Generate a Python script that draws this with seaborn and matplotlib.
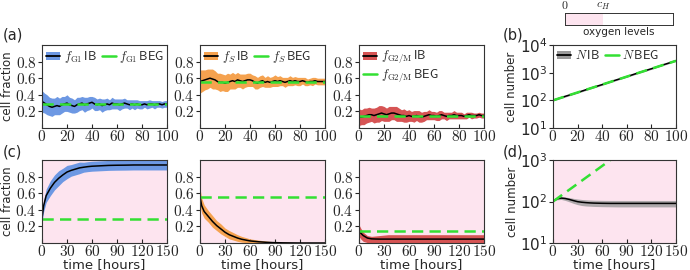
import numpy as np
import matplotlib
matplotlib.use('Agg')
import matplotlib.pyplot as plt
import seaborn as sns
from matplotlib.patches import Patch
from matplotlib.lines import Line2D
from matplotlib.ticker import FuncFormatter, FixedLocator, LogFormatterSciNotation, NullLocator

# ---- data: top row (normoxia), time 0..100 h every 2 h
top_t = np.arange(0, 101, 2)
g1_mean = [0.32, 0.30, 0.28, 0.26, 0.25, 0.26, 0.27, 0.26, 0.28, 0.29,
           0.30, 0.28, 0.27, 0.26, 0.28, 0.29, 0.30, 0.28, 0.29, 0.30,
           0.31, 0.29, 0.28, 0.29, 0.27, 0.28, 0.29, 0.28, 0.30, 0.29,
           0.29, 0.28, 0.29, 0.30, 0.29, 0.28, 0.29, 0.28, 0.29, 0.28,
           0.28, 0.29, 0.28, 0.29, 0.29, 0.28, 0.29, 0.29, 0.28, 0.29,
           0.29]
g1_half = [0.13, 0.12, 0.12, 0.11, 0.11, 0.10, 0.11, 0.10, 0.10, 0.09,
           0.10, 0.09, 0.09, 0.08, 0.09, 0.08, 0.08, 0.09, 0.08, 0.08,
           0.07, 0.08, 0.07, 0.07, 0.08, 0.07, 0.07, 0.06, 0.07, 0.06,
           0.06, 0.07, 0.06, 0.06, 0.05, 0.06, 0.05, 0.06, 0.05, 0.05,
           0.05, 0.04, 0.05, 0.05, 0.04, 0.05, 0.04, 0.04, 0.04, 0.04,
           0.04]
s_mean = [0.56, 0.57, 0.58, 0.59, 0.60, 0.59, 0.58, 0.56, 0.55, 0.55,
          0.54, 0.55, 0.56, 0.57, 0.56, 0.58, 0.57, 0.56, 0.57, 0.58,
          0.58, 0.57, 0.55, 0.54, 0.56, 0.57, 0.55, 0.56, 0.55, 0.56,
          0.57, 0.56, 0.57, 0.56, 0.55, 0.56, 0.57, 0.56, 0.57, 0.56,
          0.56, 0.57, 0.56, 0.55, 0.56, 0.56, 0.57, 0.56, 0.56, 0.56,
          0.56]
s_half = [0.14, 0.13, 0.12, 0.12, 0.11, 0.12, 0.11, 0.10, 0.11, 0.10,
          0.10, 0.11, 0.09, 0.10, 0.09, 0.09, 0.08, 0.09, 0.08, 0.08,
          0.08, 0.07, 0.08, 0.07, 0.07, 0.07, 0.06, 0.07, 0.06, 0.06,
          0.07, 0.06, 0.06, 0.05, 0.06, 0.05, 0.06, 0.05, 0.05, 0.05,
          0.05, 0.04, 0.05, 0.04, 0.04, 0.05, 0.04, 0.04, 0.04, 0.04,
          0.04]
g2m_mean = [0.13, 0.13, 0.14, 0.15, 0.16, 0.16, 0.15, 0.16, 0.17, 0.18,
            0.17, 0.16, 0.17, 0.18, 0.18, 0.17, 0.16, 0.15, 0.15, 0.14,
            0.15, 0.14, 0.14, 0.15, 0.14, 0.13, 0.14, 0.15, 0.16, 0.15,
            0.15, 0.14, 0.15, 0.16, 0.15, 0.14, 0.15, 0.15, 0.16, 0.15,
            0.15, 0.15, 0.14, 0.15, 0.16, 0.15, 0.15, 0.15, 0.16, 0.15,
            0.15]
g2m_half = [0.10, 0.09, 0.10, 0.09, 0.09, 0.08, 0.09, 0.09, 0.10, 0.09,
            0.09, 0.08, 0.09, 0.08, 0.08, 0.09, 0.08, 0.07, 0.08, 0.07,
            0.07, 0.06, 0.07, 0.06, 0.07, 0.06, 0.06, 0.05, 0.06, 0.05,
            0.05, 0.05, 0.06, 0.05, 0.04, 0.05, 0.04, 0.04, 0.05, 0.04,
            0.04, 0.04, 0.03, 0.04, 0.03, 0.04, 0.03, 0.03, 0.03, 0.03,
            0.03]
beg_g1, beg_s, beg_g2m = 0.29, 0.56, 0.15

# panel (b): cell number, normoxia
b_t = [0, 10, 20, 30, 40, 50, 60, 70, 80, 90, 100]
b_ib = [100, 140, 192, 270, 372, 522, 720, 1010, 1390, 1950, 2700]
b_lo = [95, 132, 182, 255, 352, 495, 682, 957, 1318, 1850, 2560]
b_hi = [105, 148, 202, 285, 392, 549, 758, 1063, 1462, 2050, 2840]
b_beg = [100, 139, 193, 268, 373, 518, 720, 1000, 1390, 1930, 2680]

# ---- bottom row (hypoxia), time 0..150 h
bot_t = [0, 2, 5, 10, 15, 20, 25, 30, 35, 40, 45, 50, 55, 60, 70, 80, 90,
         100, 110, 120, 130, 140, 150]
g1_c = [0.30, 0.45, 0.57, 0.66, 0.73, 0.78, 0.82, 0.855, 0.875, 0.89, 0.905,
        0.913, 0.92, 0.925, 0.93, 0.935, 0.937, 0.938, 0.94, 0.94, 0.94,
        0.94, 0.94]
g1_c_half = [0.05, 0.07, 0.08, 0.09, 0.09, 0.09, 0.08, 0.08, 0.07, 0.07,
             0.07, 0.06, 0.06, 0.06, 0.06, 0.06, 0.06, 0.06, 0.06, 0.06,
             0.06, 0.06, 0.06]
s_c = [0.56, 0.45, 0.38, 0.32, 0.26, 0.21, 0.17, 0.13, 0.10, 0.08, 0.06,
       0.045, 0.035, 0.025, 0.015, 0.008, 0.004, 0.002, 0.001, 0.0, 0.0,
       0.0, 0.0]
s_c_half = [0.10, 0.09, 0.08, 0.07, 0.07, 0.06, 0.06, 0.05, 0.05, 0.045,
            0.04, 0.035, 0.03, 0.025, 0.02, 0.015, 0.01, 0.008, 0.005,
            0.004, 0.003, 0.002, 0.002]
g2m_c = [0.15, 0.12, 0.09, 0.06, 0.05, 0.048, 0.047, 0.047, 0.047, 0.047,
         0.047, 0.047, 0.047, 0.047, 0.047, 0.047, 0.047, 0.047, 0.047,
         0.047, 0.047, 0.047, 0.047]
g2m_c_lo = [0.08, 0.05, 0.02, 0.005, 0.003, 0.003, 0.003, 0.003, 0.003,
            0.003, 0.003, 0.003, 0.003, 0.003, 0.003, 0.003, 0.003, 0.003,
            0.003, 0.003, 0.003, 0.003, 0.003]
g2m_c_hi = [0.22, 0.18, 0.13, 0.09, 0.08, 0.085, 0.09, 0.095, 0.10, 0.10,
            0.10, 0.10, 0.10, 0.10, 0.10, 0.10, 0.10, 0.10, 0.10, 0.10,
            0.10, 0.10, 0.10]

# panel (d): cell number, hypoxia
d_ib = [100, 108, 116, 121, 118, 112, 105, 99, 96, 94, 92.5, 91.5, 91,
        90.5, 90, 90, 90, 90, 90, 90, 90, 90, 90]
d_lo = [98, 104, 110, 112, 106, 98, 90, 84, 80, 78, 77, 76, 75.5, 75,
        74.5, 74, 74, 74, 74, 74, 74, 74, 74]
d_hi = [102, 112, 122, 130, 128, 124, 119, 115, 112, 110, 108.5, 107.5,
        107, 106.5, 106, 106, 106, 106, 106, 106, 106, 106, 106]
d_beg_t = [0, 10, 20, 30, 40, 50, 60, 70, 80]
d_beg = [100, 139, 193, 268, 373, 518, 720, 1000, 1390]

# ---- style
sns.set_style('ticks')
plt.rcParams['font.family'] = ['DejaVu Sans']
plt.rcParams['mathtext.fontset'] = 'cm'
plt.rcParams['font.size'] = 8
plt.rcParams['axes.edgecolor'] = '#333333'
plt.rcParams['axes.linewidth'] = 0.8

BLUE = '#6d98e3'
ORANGE = '#f5a24f'
RED = '#d65454'
GRAY = '#9a9a9a'
GREEN = '#33e033'
PINK = '#fde4ef'
TICK = 11

fig = plt.figure(figsize=(6.9, 2.7), dpi=100)

W = 125 / 690
H = 83 / 270
lefts = [42 / 690, 200 / 690, 359 / 690, 553 / 690]
top_b = 1 - 128 / 270
bot_b = 1 - 243 / 270

mfmt = FuncFormatter(lambda v, p: f'${v:g}$')


def style_ax(ax, xmax, xstep, log=False):
    ax.set_xlim(0, xmax)
    ax.xaxis.set_major_locator(FixedLocator(np.arange(0, xmax + 1, xstep)))
    ax.xaxis.set_major_formatter(mfmt)
    if not log:
        ax.set_ylim(0, 1)
        ax.yaxis.set_major_locator(FixedLocator([0.2, 0.4, 0.6, 0.8]))
        ax.yaxis.set_major_formatter(mfmt)
    else:
        lo, hi = ax.get_ylim()
        ax.yaxis.set_major_locator(FixedLocator([10 ** k for k in range(1, 5) if lo <= 10 ** k <= hi]))
        ax.yaxis.set_major_formatter(LogFormatterSciNotation())
        ax.yaxis.set_minor_locator(NullLocator())
    ax.tick_params(axis='x', direction='in', length=3, labelsize=TICK, pad=1)
    ax.tick_params(axis='y', direction='out', length=3, labelsize=TICK, pad=1)
    ax.set_xlabel('')
    ax.set_ylabel('')


def frac_panel(ax, t, mean, lo, hi, beg, color):
    ax.fill_between(t, lo, hi, color=color, lw=0)
    sns.lineplot(x=t, y=mean, ax=ax, color='black', lw=1.1)
    ax.plot([t[0], t[-1]], [beg, beg], color=GREEN, lw=1.8,
            dashes=(4.5, 2.5))


top_series = [(g1_mean, g1_half, beg_g1, BLUE, r'f_{\rm G1}'),
              (s_mean, s_half, beg_s, ORANGE, r'f_S'),
              (g2m_mean, g2m_half, beg_g2m, RED, r'f_{\rm G2/M}')]
bot_series = [(g1_c, np.array(g1_c) - np.array(g1_c_half),
               np.array(g1_c) + np.array(g1_c_half), beg_g1, BLUE),
              (s_c, np.clip(np.array(s_c) - np.array(s_c_half), 0, None),
               np.array(s_c) + np.array(s_c_half), beg_s, ORANGE),
              (g2m_c, g2m_c_lo, g2m_c_hi, beg_g2m, RED)]

LEG = dict(frameon=False, handlelength=1.1, handletextpad=0.3,
           columnspacing=0.4, borderaxespad=0.15, labelspacing=0.1,
           borderpad=0.2, prop={'size': 9})

for i, (m, h, beg, col, lab) in enumerate(top_series):
    ax = fig.add_axes([lefts[i], top_b, W, H])
    m = np.array(m)
    h = np.array(h)
    frac_panel(ax, top_t, m, m - h, m + h, beg, col)
    style_ax(ax, 100, 20)
    handles = [(Patch(color=col, lw=0), Line2D([], [], color='black', lw=1.3)),
               Line2D([], [], color=GREEN, lw=1.8)]
    labels = ['$' + lab + r'\,\mathsf{IB}$', '$' + lab + r'\,\mathsf{BEG}$']
    ax.legend(handles, labels, loc='upper left', ncol=1 if i == 2 else 2, **LEG)
    if i == 0:
        ax.set_ylabel('cell fraction', fontsize=8.5, labelpad=1)

for i, (m, lo, hi, beg, col) in enumerate(bot_series):
    ax = fig.add_axes([lefts[i], bot_b, W, H])
    ax.set_facecolor(PINK)
    frac_panel(ax, bot_t, m, lo, hi, beg, col)
    style_ax(ax, 150, 30)
    ax.set_xlabel('time [hours]', fontsize=9.5, labelpad=-1)
    if i == 0:
        ax.set_ylabel('cell fraction', fontsize=8.5, labelpad=1)

# panel (b)
axb = fig.add_axes([lefts[3], top_b, 123 / 690, H])
axb.set_yscale('log')
axb.fill_between(b_t, b_lo, b_hi, color=GRAY, lw=0)
sns.lineplot(x=b_t, y=b_ib, ax=axb, color='black', lw=1.1)
axb.plot(b_t, b_beg, color=GREEN, lw=1.8, dashes=(4.5, 2.5))
axb.set_ylim(10, 1e4)
style_ax(axb, 100, 20, log=True)
axb.set_ylabel('cell number', fontsize=8.5, labelpad=1)
hb = [(Patch(color=GRAY, lw=0), Line2D([], [], color='black', lw=1.3)),
      Line2D([], [], color=GREEN, lw=1.8)]
axb.legend(hb, [r'$N\,\mathsf{IB}$', r'$N\,\mathsf{BEG}$'], loc='upper left',
           ncol=2, **LEG)

# panel (d)
axd = fig.add_axes([lefts[3], bot_b, 123 / 690, H])
axd.set_facecolor(PINK)
axd.set_yscale('log')
axd.fill_between(bot_t, d_lo, d_hi, color=GRAY, lw=0, alpha=0.8)
sns.lineplot(x=bot_t, y=d_ib, ax=axd, color='black', lw=1.1)
axd.plot(d_beg_t, d_beg, color=GREEN, lw=1.8, dashes=(4.5, 2.5))
axd.set_ylim(10, 1e3)
style_ax(axd, 150, 30, log=True)
axd.set_ylabel('cell number', fontsize=8.5, labelpad=1)
axd.set_xlabel('time [hours]', fontsize=9.5, labelpad=-1)

# oxygen level bar
axo = fig.add_axes([565 / 690, 1 - 25 / 270, 108 / 690, 12 / 270])
axo.set_xlim(0, 1)
axo.set_ylim(0, 1)
axo.axvspan(0, 0.35, color=PINK, lw=0)
axo.set_xticks([])
axo.set_yticks([])
for sp in axo.spines.values():
    sp.set_linewidth(0.7)
axo.text(0, 1.05, r'$0$', ha='center', va='bottom', fontsize=8.5,
         transform=axo.transAxes)
axo.text(0.35, 1.05, r'$c_H$', ha='center', va='bottom', fontsize=8.5,
         transform=axo.transAxes)
axo.text(0.5, -0.15, 'oxygen levels', ha='center', va='top', fontsize=7.5,
         transform=axo.transAxes)

# panel labels
for lab, x, y in [('(a)', 3, 35), ('(b)', 503, 35), ('(c)', 3, 152),
                  ('(d)', 503, 152)]:
    fig.text(x / 690, 1 - y / 270, lab, fontsize=10.5, va='center')

fig.savefig('out.png', dpi=100)
